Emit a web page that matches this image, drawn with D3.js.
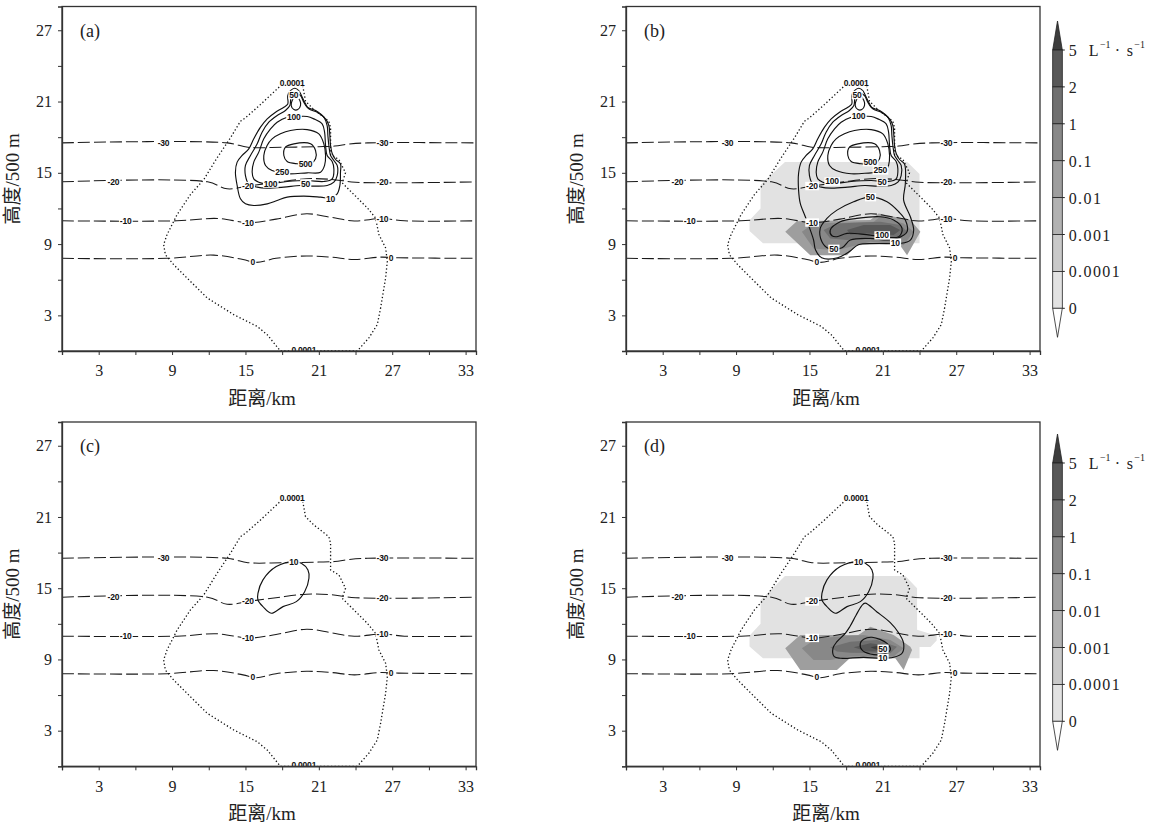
<!DOCTYPE html>
<html><head><meta charset="utf-8">
<script src="https://cdn.jsdelivr.net/npm/d3@7"></script>
<style>body{margin:0;background:#fff}</style>
</head><body>
<svg id="chart" width="1163" height="825" xmlns="http://www.w3.org/2000/svg"></svg>
<script>
// ---------------- data ----------------
const xDomain = [0, 33.85];
const yDomain = [0, 29];
const xTickLabels = [3, 9, 15, 21, 27, 33];
const xMinorTicks = [0, 6, 12, 18, 24, 30];
const yTickLabels = [3, 9, 15, 21, 27];
const yMinorTicks = [0, 6, 12, 18, 24];
const panelTags = ["(a)", "(b)", "(c)", "(d)"];
const xTitle = "距离/km";
const yTitle = "高度/500 m";

// colour bar
const cbLevels = ["0", "0.0001", "0.001", "0.01", "0.1", "1", "2", "5"];
const cbColors = ["#e2e2e2", "#c9c9c9", "#b2b2b2", "#9e9e9e", "#888888", "#707070", "#585858"];
const cbOver = "#3d3d3d";
const cbUnder = "#ffffff";
const cbUnit = ["L", "−1", "·", "s", "−1"];

// isotherms (km, height)
const isoT30 = [[0,17.52],[13.5,17.52],[15.2,17.15],[18,17.15],[21,17.2],[22.3,17.25],[23.5,17.42],[25,17.52],[33.85,17.52]];
const isoT20 = [[0,14.24],[11.9,14.24],[13.5,13.65],[15.3,13.9],[17.5,14.2],[20,14.5],[22,14.45],[24,14.2],[33.85,14.24]];
const isoT10 = [[0,10.96],[9.4,10.96],[12.7,11.16],[15.3,10.8],[17.5,11.1],[20,11.55],[22,11.25],[23.9,10.95],[26.2,11.15],[28,10.96],[33.85,10.96]];
const isoT0  = [[0,7.8],[8.6,7.8],[12.4,8.07],[14.8,7.7],[15.9,7.46],[17.5,7.8],[20,8.0],[22,7.9],[23.9,7.7],[26,7.9],[27.5,7.85],[33.85,7.8]];
const isoLabels = [["-30",8.3,0],["-30",26.2,0],["-20",4.2,1],["-20",15.2,1],["-20",26.2,1],
                   ["-10",5.2,2],["-10",15.2,2],["-10",26.2,2],["0",15.6,3],["0",26.9,3]];

// cloud edge (0.0001 contour, dotted)
const cloudEdge = [[18.13,22.58],[19.64,22.58],[19.91,21.03],[20.59,20.33],[21.82,19.34],[21.96,18.79],[21.96,16.54],[22.64,16.12],[23.18,15.0],[22.91,14.15],[23.87,13.17],[24.96,12.05],[25.64,11.2],[25.91,9.8],[26.46,8.68],[26.6,7.55],[26.46,6.15],[26.05,3.62],[25.78,2.22],[25.09,1.1],[24.14,0],[17.86,0],[16.78,1.37],[15.96,2.07],[14.04,3.06],[11.87,4.47],[10.5,5.86],[9.13,7.27],[8.45,8.11],[8.31,8.96],[8.59,9.8],[9.41,11.48],[10.5,13.17],[11.59,14.43],[12.68,16.26],[13.77,17.94],[14.59,19.34],[15.0,19.63],[16.23,20.75]];

// solid contours (closed loops)
const c10a = [[18.46,21.5],[18.68,21.92],[19.04,22.12],[19.36,21.92],[19.64,21.36],[19.91,20.8],[20.18,20.38],[20.87,20.1],[21.55,19.54],[21.82,18.98],[21.9,18.14],[21.96,17.3],[22.1,16.6],[22.37,16.12],[22.77,15.75],[22.77,15.05],[22.72,13.94],[22.5,13.23],[21.96,12.87],[21.14,12.95],[19.77,13.04],[18.41,12.95],[17.59,12.67],[16.78,12.39],[15.68,12.25],[15.0,12.39],[14.59,12.81],[14.32,13.94],[14.18,15.05],[14.32,15.9],[14.73,16.46],[15.27,17.01],[15.68,17.86],[16.23,18.84],[16.78,19.54],[17.46,20.1],[18.14,20.52],[18.46,20.8]];
const c10b = [[18.46,21.5],[18.68,21.92],[19.04,22.12],[19.36,21.92],[19.64,21.36],[19.91,20.8],[20.18,20.38],[20.87,20.1],[21.55,19.54],[21.82,18.98],[21.9,18.14],[21.96,17.3],[22.1,16.6],[22.37,16.12],[22.77,15.75],[22.84,14.1],[22.7,12.7],[23.25,11.3],[23.52,10.18],[23.25,9.34],[22.43,9.06],[20.5,9.05],[19.0,8.95],[18.3,8.4],[17.3,7.85],[16.0,7.85],[15.5,8.5],[15.34,9.34],[15.07,10.18],[14.66,11.3],[14.25,12.42],[14.11,13.54],[14.11,14.94],[14.32,15.9],[14.73,16.46],[15.27,17.01],[15.68,17.86],[16.23,18.84],[16.78,19.54],[17.46,20.1],[18.14,20.52],[18.46,20.8]];
const c50u = [[19.09,21.73],[19.5,21.5],[19.77,20.94],[20.05,20.52],[20.73,20.24],[21.41,19.68],[21.68,18.98],[21.74,18.14],[21.82,17.3],[21.96,16.46],[22.23,16.04],[22.5,15.62],[22.5,14.77],[22.23,14.21],[21.68,13.93],[20.59,13.88],[19.5,13.93],[18.14,13.79],[16.77,13.71],[15.96,13.79],[15.27,14.07],[15.0,14.77],[15.0,15.62],[15.41,16.46],[15.96,17.44],[16.36,18.42],[16.91,19.26],[17.59,19.82],[18.27,20.24],[18.63,20.66],[18.74,21.36]];
const c100u = [[19.23,19.74],[20.05,19.74],[20.59,19.54],[21.27,19.12],[21.47,18.42],[21.55,17.3],[21.68,16.46],[22.09,15.95],[22.23,15.33],[22.09,14.49],[21.41,14.27],[20.05,14.35],[18.41,14.27],[16.77,14.07],[16.09,14.21],[15.68,14.49],[15.55,15.05],[15.68,15.9],[16.09,16.74],[16.5,17.86],[17.05,18.7],[17.59,19.26],[18.41,19.68]];
const c100tear = [[19.09,21.45],[19.45,21.08],[19.5,20.66],[19.28,20.32],[18.96,20.32],[18.74,20.66],[18.82,21.08]];
const c250 = [[18.68,18.56],[20.05,18.64],[21.0,18.28],[21.41,17.44],[21.55,16.46],[21.47,15.62],[21.14,15.05],[20.05,15.0],[18.41,14.92],[17.18,15.19],[16.64,15.62],[16.5,16.46],[16.77,17.3],[17.18,17.86],[17.86,18.28]];
const c500 = [[18.27,17.16],[18.96,17.44],[20.32,17.44],[20.73,16.88],[20.73,16.18],[20.32,15.76],[19.23,15.76],[18.41,15.95],[18.14,16.46]];
const c50l = [[19.97,12.98],[21.34,12.56],[22.3,11.72],[22.84,11.02],[22.98,10.04],[22.16,9.48],[21.07,9.34],[19.97,9.48],[18.34,9.34],[17.66,8.69],[16.57,8.63],[16.02,9.2],[15.88,10.32],[16.43,11.16],[17.25,11.86],[18.61,12.56]];
const c100l = [[16.7,10.18],[17.52,10.88],[18.88,11.16],[20.79,11.3],[21.88,11.02],[22.57,10.32],[22.3,9.62],[19.97,9.76],[18.07,9.9],[17.25,9.62],[16.84,9.7]];
const c10cd = [[19.02,17.24],[17.52,16.82],[16.43,15.7],[16.02,14.57],[16.02,14.01],[16.43,13.45],[17.11,12.89],[18.07,13.45],[19.16,13.87],[19.84,14.71],[20.19,15.84],[20.11,16.54],[19.57,17.1]];
const c10d = [[19.55,13.75],[20.52,13.0],[21.61,12.1],[22.29,11.25],[22.7,10.36],[22.57,9.52],[21.88,9.18],[20.79,9.1],[19.43,9.18],[17.52,9.1],[17.03,9.24],[16.92,9.94],[17.25,10.5],[17.93,11.2],[18.3,11.76],[18.8,12.7],[19.25,13.5]];
const c50d = [[20.11,10.87],[21.34,10.36],[21.61,9.8],[21.07,9.46],[19.98,9.46],[19.29,9.8],[19.16,10.36],[19.43,10.7]];

// shaded regions (bin index into cbColors, 7 = over)
const lightB = [[13.0,15.92],[23.0,15.92],[24.0,14.9],[24.0,9.06],[11.2,9.06],[10.1,10.1],[10.1,11.0],[11.0,12.0],[11.0,14.0]];
const grayB1 = [[13.02,10.04],[13.97,10.93],[19.98,11.02],[20.66,11.58],[23.25,11.02],[24.07,10.04],[22.98,8.07],[22.3,9.05],[18.88,8.91],[18.07,8.07],[15.07,8.07]];
const grayB2 = [[14.38,10.04],[15.34,10.74],[20.25,10.88],[20.79,11.3],[22.7,10.74],[23.52,10.04],[22.7,8.91],[19.98,9.2],[18.34,8.77],[17.25,8.49],[15.34,8.63]];
const grayB3 = [[16.16,10.18],[17.25,10.74],[20.79,10.88],[22.43,10.6],[22.98,10.04],[22.43,9.48],[19.98,9.62],[18.07,9.34],[16.7,9.48]];
const grayB4 = [[18.07,10.18],[19.43,10.6],[21.61,10.6],[22.43,10.18],[21.88,9.76],[19.7,9.9],[18.34,9.81]];
const lightD = [[13.0,16.03],[22.84,16.03],[23.8,15.0],[23.8,11.5],[25.4,11.0],[25.4,10.6],[24.9,10.05],[24.0,10.05],[24.0,9.1],[11.2,9.1],[10.1,10.1],[10.1,11.0],[11.0,12.0],[11.0,14.0]];
const grayD1 = [[13.02,9.94],[14.25,11.06],[19.0,11.06],[19.98,11.76],[21.88,11.06],[23.25,10.08],[23.39,9.8],[22.7,8.11],[22.02,9.1],[18.3,9.1],[17.25,8.11],[14.25,8.11]];
const grayD2 = [[14.38,9.94],[15.61,10.78],[19.43,11.06],[21.61,10.64],[22.7,9.94],[21.88,9.24],[18.34,9.24],[16.7,8.96],[15.34,8.96]];
const grayD3 = [[16.7,10.02],[18.34,10.5],[20.52,10.64],[22.16,10.08],[21.61,9.52],[18.34,9.57],[17.25,9.66]];
const grayD4 = [[18.61,10.02],[19.98,10.36],[21.61,10.14],[21.34,9.66],[19.7,9.66]];
const grayD5 = [[19.98,10.02],[20.93,10.22],[21.34,9.94],[20.66,9.75]];
const shadeBins = { light: 0, g1: 3, g2: 4, g3: 5, g4: 6, g5: 7 };

// contour labels [text, km, height]
const labelsA = [["0.0001",18.82,22.6],["50",18.95,21.55],["100",18.95,19.71],["500",19.91,15.73],["250",18.0,15.03],["100",17.05,14.1],["50",19.91,14.1],["10",21.96,12.8],["0.0001",19.77,0.12]];
const labelsB = [["0.0001",18.82,22.6],["50",18.88,21.55],["100",19.02,19.82],["500",19.98,15.9],["250",20.79,15.2],["100",16.84,14.27],["50",20.93,14.2],["50",19.98,12.95],["50",16.98,8.6],["100",20.93,9.73],["10",22.02,9.12],["0.0001",19.77,0.12]];
const labelsC = [["0.0001",18.82,22.6],["10",18.96,17.24],["0.0001",19.77,0.12]];
const labelsD = [["0.0001",18.82,22.6],["10",19.02,17.24],["50",21.0,9.9],["10",21.0,9.12],["0.0001",19.77,0.12]];

// ---------------- drawing ----------------
const svg = d3.select("#chart");
const serif = "'Liberation Serif','Times New Roman','Noto Sans CJK SC',serif";
const sans = "'Liberation Sans',Arial,sans-serif";
const isotherms = [isoT30, isoT20, isoT10, isoT0];

const panels = [
  {tag:panelTags[0], left:62, top:6.5, bottom:351, contours:[c10a,c50u,c100u,c100tear,c250,c500], labels:labelsA, shades:null, cb:null},
  {tag:panelTags[1], left:626, top:6.5, bottom:351, contours:[c10b,c50u,c100u,c100tear,c250,c500,c50l,c100l], labels:labelsB,
    shades:[[lightB,shadeBins.light],[grayB1,shadeBins.g1],[grayB2,shadeBins.g2],[grayB3,shadeBins.g3],[grayB4,shadeBins.g4]], cb:{x:1052.7, y0:21}},
  {tag:panelTags[2], left:62, top:422, bottom:766.3, contours:[c10cd], labels:labelsC, shades:null, cb:null},
  {tag:panelTags[3], left:626, top:422, bottom:766.3, contours:[c10cd,c10d,c50d], labels:labelsD,
    shades:[[lightD,shadeBins.light],[grayD1,shadeBins.g1],[grayD2,shadeBins.g2],[grayD3,shadeBins.g3],[grayD4,shadeBins.g4],[grayD5,shadeBins.g5]], cb:{x:1052.7, y0:434}}
];
const W = 414;

function interpH(line, km){
  for (let i=0;i<line.length-1;i++){
    const a=line[i], b=line[i+1];
    if (km>=a[0] && km<=b[0]) return a[1]+(b[1]-a[1])*(km-a[0])/(b[0]-a[0]);
  }
  return line[line.length-1][1];
}
function binColor(b){ return b>=cbColors.length ? cbOver : cbColors[b]; }

function label(g, px, py, txt){
  const t = g.append("text").attr("x",px).attr("y",py)
    .attr("text-anchor","middle").attr("dominant-baseline","central")
    .attr("font-family",sans).attr("font-size",8.5).attr("font-weight","bold")
    .attr("letter-spacing",-0.2).attr("fill","#111").text(txt);
  const bb = t.node().getBBox();
  g.insert("rect", () => t.node()).attr("x",bb.x-0.8).attr("y",bb.y+0.8).attr("width",bb.width+1.6).attr("height",bb.height-1.6).attr("fill","#fff");
}

panels.forEach((p,i) => {
  const x = d3.scaleLinear().domain(xDomain).range([p.left, p.left+W]);
  const y = d3.scaleLinear().domain(yDomain).range([p.bottom, p.top]);
  const g = svg.append("g");
  const clipId = "clip"+i;
  g.append("clipPath").attr("id",clipId).append("rect")
    .attr("x",p.left).attr("y",p.top).attr("width",W).attr("height",p.bottom-p.top);
  const pg = g.append("g").attr("clip-path",`url(#${clipId})`);

  const polyLine = d3.line().x(d=>x(d[0])).y(d=>y(d[1])).curve(d3.curveLinearClosed);
  const smoothClosed = d3.line().x(d=>x(d[0])).y(d=>y(d[1])).curve(d3.curveCatmullRomClosed.alpha(0.5));
  const smoothOpen = d3.line().x(d=>x(d[0])).y(d=>y(d[1])).curve(d3.curveCatmullRom.alpha(0.5));

  if (p.shades){
    pg.selectAll("path.shade").data(p.shades).join("path").attr("class","shade")
      .attr("d", d=>polyLine(d[0])).attr("fill", d=>binColor(d[1])).attr("stroke","none");
  }
  pg.selectAll("path.iso").data(isotherms).join("path").attr("class","iso")
    .attr("d", d=>smoothOpen(d)).attr("fill","none").attr("stroke","#1a1a1a")
    .attr("stroke-width",1.05).attr("stroke-dasharray","12,4");
  pg.append("path").attr("d", polyLine(cloudEdge)).attr("fill","none").attr("stroke","#111")
    .attr("stroke-width",1.3).attr("stroke-dasharray","1.3,2.3");
  pg.selectAll("path.cont").data(p.contours).join("path").attr("class","cont")
    .attr("d", d=>smoothClosed(d)).attr("fill","none").attr("stroke","#111").attr("stroke-width",1.15);
  isoLabels.forEach(l => {
    label(pg, x(l[1]), y(interpH(isotherms[l[2]], l[1])), l[0]);
  });
  p.labels.forEach(l => label(pg, x(l[1]), y(l[2]), l[0]));

  g.append("rect").attr("x",p.left).attr("y",p.top).attr("width",W).attr("height",p.bottom-p.top)
    .attr("fill","none").attr("stroke","#333").attr("stroke-width",1.3);

  const xAll = xMinorTicks.concat(xTickLabels).sort((a,b)=>a-b);
  const ax = d3.axisBottom(x).tickValues(xAll).tickSize(4).tickPadding(10)
    .tickFormat(d => xTickLabels.includes(d) ? d : "");
  const gx = g.append("g").attr("transform",`translate(0,${p.bottom})`).call(ax);
  const yAll = yMinorTicks.concat(yTickLabels).sort((a,b)=>a-b);
  const ay = d3.axisLeft(y).tickValues(yAll).tickSize(4).tickPadding(6)
    .tickFormat(d => yTickLabels.includes(d) ? d : "");
  const gy = g.append("g").attr("transform",`translate(${p.left},0)`).call(ay);
  [gx,gy].forEach(a => {
    a.select(".domain").attr("stroke","#333").attr("stroke-width",1.3);
    a.selectAll(".tick line").attr("stroke","#333").attr("stroke-width",1);
    a.selectAll("text").attr("font-family",serif).attr("font-size",16).attr("fill","#222");
  });

  g.append("text").attr("x",p.left+200).attr("y",p.bottom+54).attr("text-anchor","middle")
    .attr("font-family",serif).attr("font-size",19).attr("fill","#222").text(xTitle);
  g.append("text").attr("transform",`translate(${p.left-43},${(p.top+p.bottom)/2}) rotate(-90)`)
    .attr("text-anchor","middle").attr("font-family",serif).attr("font-size",19).attr("fill","#222").text(yTitle);
  g.append("text").attr("x",p.left+18).attr("y",p.top+30).attr("font-family",serif)
    .attr("font-size",18).attr("fill","#222").text(p.tag);

  if (p.cb){
    const cx = p.cb.x, cw = 9.6, boxTop = p.cb.y0 + 29, bh = 36.9;
    const n = cbColors.length;
    const cg = g.append("g");
    cg.append("path").attr("d",`M${cx},${boxTop} L${cx+cw/2},${p.cb.y0} L${cx+cw},${boxTop} Z`)
      .attr("fill",cbOver).attr("stroke","#222").attr("stroke-width",0.8);
    for (let k=0;k<n;k++){
      const idx = n-1-k;
      cg.append("rect").attr("x",cx).attr("y",boxTop+k*bh).attr("width",cw).attr("height",bh)
        .attr("fill",cbColors[idx]).attr("stroke","#222").attr("stroke-width",0.8);
    }
    const boxBot = boxTop + n*bh;
    cg.append("path").attr("d",`M${cx},${boxBot} L${cx+cw/2},${boxBot+29} L${cx+cw},${boxBot} Z`)
      .attr("fill",cbUnder).attr("stroke","#222").attr("stroke-width",0.8);
    cbLevels.forEach((lv,k) => {
      const yy = boxBot - k*bh;
      cg.append("line").attr("x1",cx+cw).attr("x2",cx+cw+2.5).attr("y1",yy).attr("y2",yy).attr("stroke","#222");
      const t = cg.append("text").attr("x",cx+16).attr("y",yy).attr("dominant-baseline","central")
        .attr("font-family",serif).attr("font-size",16).attr("letter-spacing",1.4).attr("fill","#222");
      t.append("tspan").text(lv);
      if (k === cbLevels.length-1){
        t.append("tspan").attr("x",cx+36).text(cbUnit[0]);
        t.append("tspan").attr("dy",-6).attr("font-size",10).attr("letter-spacing",0).text(cbUnit[1]);
        t.append("tspan").attr("x",cx+62).attr("dy",6).text(cbUnit[2]);
        t.append("tspan").attr("x",cx+74).text(cbUnit[3]);
        t.append("tspan").attr("dy",-6).attr("font-size",10).attr("letter-spacing",0).text(cbUnit[4]);
      }
    });
  }
});
</script>
</body></html>
